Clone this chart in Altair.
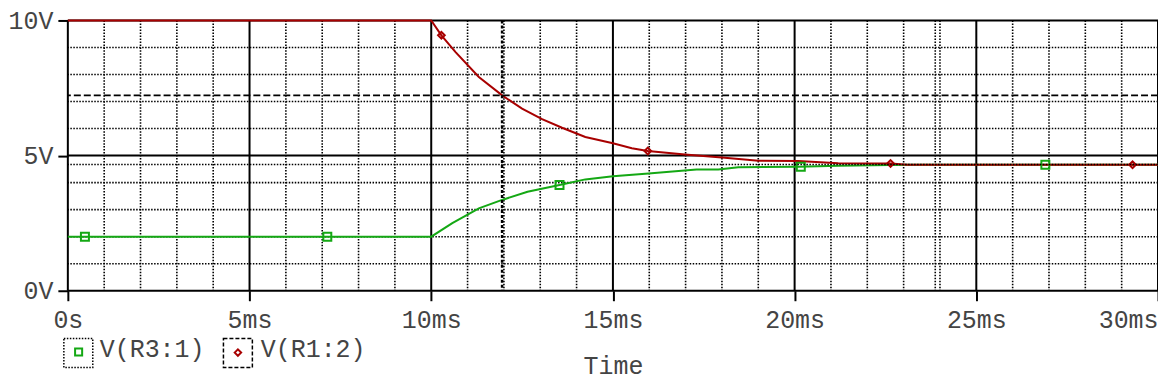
import altair as alt
import pandas as pd

# ---- data ----
series_names = ["V(R3:1)", "V(R1:2)"]
series_colors = ["#14a814", "#a80000"]

green_t = [0, 10.0, 10.58, 11.31, 11.95, 12.65, 13.53, 14.24, 15.0, 15.98, 17.3, 17.9, 18.45, 20.1, 21.2, 23.1, 30]
green_v = [2, 2, 2.50, 3.05, 3.36, 3.66, 3.91, 4.12, 4.24, 4.34, 4.49, 4.49, 4.57, 4.59, 4.62, 4.66, 4.66]

red_t = [0, 10.0, 10.28, 10.67, 11.31, 11.97, 12.5, 13.05, 13.6, 14.24, 15.0, 15.52, 15.96, 16.98, 18.08, 19.0, 20.1, 21.2, 22.64, 23.1, 30]
red_v = [10, 10, 9.45, 8.83, 7.91, 7.21, 6.74, 6.35, 6.03, 5.69, 5.46, 5.27, 5.17, 5.04, 4.92, 4.81, 4.80, 4.72, 4.71, 4.66, 4.66]

green_mark_t = [0.47, 7.14, 13.53, 20.17, 26.9]
green_mark_v = [2, 2, 3.91, 4.59, 4.66]
red_mark_t = [10.28, 15.96, 22.64, 29.3]
red_mark_v = [9.45, 5.17, 4.71, 4.66]

x_major = [0, 5, 10, 15, 20, 25, 30]
x_labels = ["0s", "5ms", "10ms", "15ms", "20ms", "25ms", "30ms"]
x_minor = [t for t in range(31) if t % 5]
y_major = [0, 5, 10]
y_labels = ["0V", "5V", "10V"]
y_minor = [1, 2, 3, 4, 6, 7, 8, 9]

cursor1_t, cursor1_v = 11.95, 7.23
cursor2_t, cursor2_v = 23.87, 4.67

FONT = "Liberation Mono"
FS = 25
TXT = "#444444"

W, H = 1093, 271

def js(lst):
    return "[" + ",".join(repr(v) if isinstance(v, str) else str(v) for v in lst) + "]"

xscale = alt.Scale(domain=[0, 30], nice=False, zero=False)
yscale = alt.Scale(domain=[0, 10], nice=False, zero=False)

xaxis = alt.Axis(
    values=x_major,
    labelExpr=f"{js(x_labels)}[indexof({js(x_major)}, datum.value)]",
    labelAlign=alt.ExprRef(f"datum.value == {x_major[-1]} ? 'right' : 'center'"),
    title="Time", grid=False, domain=False,
    tickSize=10, tickWidth=2, tickColor="black",
    labelFont=FONT, labelFontSize=FS, labelColor=TXT,
    labelPadding=27, labelBaseline="alphabetic", labelFlush=False,
    titleFont=FONT, titleFontSize=FS, titleFontWeight="normal", titleColor=TXT,
    titleBaseline="alphabetic", titleY=83,
)
yaxis = alt.Axis(
    values=y_major,
    labelExpr=f"{js(y_labels)}[indexof({js(y_major)}, datum.value)]",
    title=None, grid=False, domain=False,
    tickSize=10, tickWidth=2, tickColor="black",
    labelFont=FONT, labelFontSize=FS, labelColor=TXT,
    labelPadding=5, labelBaseline="middle", labelFlush=False,
)

def X(f="t"):
    return alt.X(f"{f}:Q", scale=xscale, axis=xaxis)

def Y(f="v"):
    return alt.Y(f"{f}:Q", scale=yscale, axis=yaxis)

df_green = pd.DataFrame({"t": green_t, "v": green_v})
df_red = pd.DataFrame({"t": red_t, "v": red_v})
df_gm = pd.DataFrame({"t": green_mark_t, "v": green_mark_v})
df_rm = pd.DataFrame({"t": red_mark_t, "v": red_mark_v})

dot = [1.5, 1.5]

minor_v = alt.Chart(pd.DataFrame({"t": x_minor})).mark_rule(
    color="black", strokeWidth=1.6, strokeDash=dot).encode(x=X())
minor_h = alt.Chart(pd.DataFrame({"v": y_minor})).mark_rule(
    color="black", strokeWidth=1.6, strokeDash=dot).encode(y=Y())
major_v = alt.Chart(pd.DataFrame({"t": x_major})).mark_rule(
    color="black", strokeWidth=2).encode(x=X())
major_h = alt.Chart(pd.DataFrame({"v": y_major})).mark_rule(
    color="black", strokeWidth=2).encode(y=Y())

c1v = alt.Chart(pd.DataFrame({"t": [cursor1_t]})).mark_rule(
    color="black", strokeWidth=2.5, strokeDash=[3, 2]).encode(x=X())
c1h = alt.Chart(pd.DataFrame({"v": [cursor1_v]})).mark_rule(
    color="black", strokeWidth=1.8, strokeDash=[7, 3]).encode(y=Y())
c2v = alt.Chart(pd.DataFrame({"t": [cursor2_t]})).mark_rule(
    color="black", strokeWidth=1.6, strokeDash=dot).encode(x=X())
c2h = alt.Chart(pd.DataFrame({"v": [cursor2_v]})).mark_rule(
    color="black", strokeWidth=1.4, strokeDash=dot).encode(y=Y())

line_g = alt.Chart(df_green).mark_line(color=series_colors[0], strokeWidth=2).encode(x=X(), y=Y())
line_r = alt.Chart(df_red).mark_line(color=series_colors[1], strokeWidth=2).encode(x=X(), y=Y())
pts_g = alt.Chart(df_gm).mark_point(shape="square", filled=False, color=series_colors[0],
                                    size=64, strokeWidth=2, opacity=1).encode(x=X(), y=Y())
pts_r = alt.Chart(df_rm).mark_point(shape="diamond", filled=False, color=series_colors[1],
                                    size=45, strokeWidth=2, opacity=1).encode(x=X(), y=Y())

# ---- legend (drawn below the axis labels) ----
one = pd.DataFrame({"k": [0]})
leg_box1 = alt.Chart(one).mark_rect(fillOpacity=0, stroke="black", strokeWidth=1.5,
                                    strokeDash=[1.5, 1.5]).encode(
    x=alt.value(-4), x2=alt.value(25), y=alt.value(319), y2=alt.value(348))
leg_box2 = alt.Chart(one).mark_rect(fillOpacity=0, stroke="black", strokeWidth=1.5,
                                    strokeDash=[4, 2]).encode(
    x=alt.value(156), x2=alt.value(185), y=alt.value(319), y2=alt.value(348))
leg_sym1 = alt.Chart(one).mark_point(shape="square", filled=False, color=series_colors[0],
                                     size=50, strokeWidth=2, opacity=1).encode(
    x=alt.value(10.8), y=alt.value(332.5))
leg_sym2 = alt.Chart(one).mark_point(shape="diamond", filled=False, color=series_colors[1],
                                     size=42, strokeWidth=2, opacity=1).encode(
    x=alt.value(170.5), y=alt.value(333))
leg_txt1 = alt.Chart(one).mark_text(align="left", baseline="alphabetic", font=FONT,
                                    fontSize=FS, color=TXT).encode(
    x=alt.value(32), y=alt.value(337), text=alt.value(series_names[0]))
leg_txt2 = alt.Chart(one).mark_text(align="left", baseline="alphabetic", font=FONT,
                                    fontSize=FS, color=TXT).encode(
    x=alt.value(193.5), y=alt.value(337), text=alt.value(series_names[1]))

chart = alt.layer(
    minor_v, minor_h, c2v, major_v, major_h,
    line_g, line_r, pts_g, pts_r,
    c1v, c1h, c2h,
    leg_box1, leg_box2, leg_sym1, leg_sym2, leg_txt1, leg_txt2,
).properties(
    width=W, height=H,
    autosize=alt.AutoSizeParams(type="none"),
    padding={"left": 60, "top": 12, "right": 0, "bottom": 89},
    background="white",
).configure_view(stroke=None)

chart.save("out.html", embed_options={"renderer": "svg", "actions": False})
